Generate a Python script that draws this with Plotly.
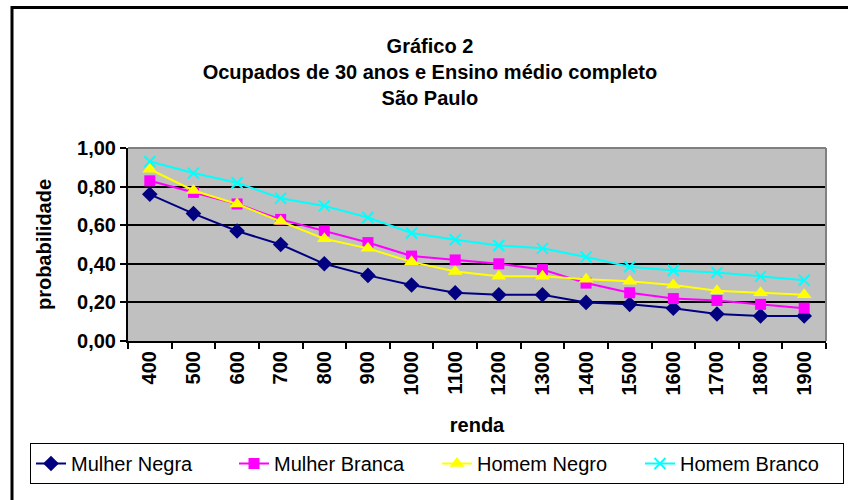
import plotly.graph_objects as go

renda = ["400", "500", "600", "700", "800", "900", "1000", "1100", "1200",
         "1300", "1400", "1500", "1600", "1700", "1800", "1900"]
mulher_negra = [0.76, 0.66, 0.57, 0.50, 0.40, 0.34, 0.29, 0.25, 0.24,
                0.24, 0.20, 0.19, 0.17, 0.14, 0.13, 0.13]
mulher_branca = [0.83, 0.77, 0.71, 0.63, 0.57, 0.51, 0.44, 0.42, 0.40,
                 0.37, 0.30, 0.25, 0.22, 0.21, 0.19, 0.17]
homem_negro = [0.89, 0.78, 0.71, 0.62, 0.53, 0.48, 0.41, 0.36, 0.335,
               0.335, 0.32, 0.31, 0.29, 0.26, 0.25, 0.24]
homem_branco = [0.93, 0.87, 0.82, 0.74, 0.70, 0.64, 0.56, 0.525, 0.495,
                0.48, 0.435, 0.385, 0.365, 0.355, 0.335, 0.315]

FONT = "Arial, 'Liberation Sans', sans-serif"

fig = go.Figure()
fig.add_trace(go.Scatter(x=renda, y=mulher_negra, name="Mulher Negra", mode="lines+markers",
                         line=dict(color="#000080", width=2),
                         marker=dict(symbol="diamond", size=12, color="#000080")))
fig.add_trace(go.Scatter(x=renda, y=mulher_branca, name="Mulher Branca", mode="lines+markers",
                         line=dict(color="#FF00FF", width=2),
                         marker=dict(symbol="square", size=11, color="#FF00FF")))
fig.add_trace(go.Scatter(x=renda, y=homem_negro, name="Homem Negro", mode="lines+markers",
                         line=dict(color="#FFFF00", width=2),
                         marker=dict(symbol="triangle-up", size=13, color="#FFFF00")))
fig.add_trace(go.Scatter(x=renda, y=homem_branco, name="Homem Branco", mode="lines+markers",
                         line=dict(color="#00FFFF", width=2),
                         marker=dict(symbol="x-thin", size=11, color="#00FFFF",
                                     line=dict(color="#00FFFF", width=2))))

fig.update_layout(
    width=848, height=500,
    margin=dict(l=128, r=22, t=148, b=159, autoexpand=False),
    paper_bgcolor="white", plot_bgcolor="#C0C0C0",
    separators=",.",
    font=dict(family=FONT, color="black"),
    title=dict(text="<b>Gráfico 2<br>Ocupados de 30 anos e Ensino médio completo<br>São Paulo</b>",
               x=0.507, xanchor="center", y=0.894, yanchor="top",
               font=dict(size=20, family=FONT, color="black")),
    showlegend=True,
    legend=dict(orientation="h", x=(30 - 128) / 698, xanchor="left",
                y=(341 - 443) / 193, yanchor="top",
                bordercolor="black", borderwidth=1, bgcolor="white",
                font=dict(size=20, family=FONT, color="black"),
                entrywidth=158, entrywidthmode="pixels", tracegroupgap=0),
)
fig.update_xaxes(type="category", tickson="boundaries", ticks="outside", ticklen=6,
                 tickcolor="black", tickwidth=2, showline=True, linecolor="black", linewidth=2,
                 showgrid=False, tickangle=-90,
                 tickfont=dict(size=20, family=FONT, color="black", weight="bold"),
                 title=dict(text="<b>renda</b>", font=dict(size=20, family=FONT), standoff=23),
                 range=[-0.5, 15.5])
fig.update_yaxes(range=[0, 1], dtick=0.2, tickformat=".2f", ticks="outside", ticklen=6,
                 tickcolor="black", tickwidth=2, showline=True, linecolor="black", linewidth=2,
                 showgrid=True, gridcolor="black", gridwidth=1.5, zeroline=False,
                 tickfont=dict(size=20, family=FONT, color="black", weight="bold"),
                 title=dict(text="<b>probabilidade</b>", font=dict(size=20, family=FONT), standoff=20))

# gray plot-area border (top/right) and outer black frame
fig.add_shape(type="line", xref="paper", yref="paper", x0=0, x1=1, y0=1, y1=1,
              line=dict(color="#808080", width=2), layer="above")
fig.add_shape(type="line", xref="paper", yref="paper", x0=1, x1=1, y0=0, y1=1,
              line=dict(color="#808080", width=2), layer="above")
fig.add_shape(type="rect", xref="paper", yref="paper",
              x0=(12 - 128) / 698, x1=(860 - 128) / 698,
              y0=(341 - 510) / 193, y1=(341 - 7.5) / 193,
              line=dict(color="black", width=3), fillcolor="rgba(0,0,0,0)", layer="above")

fig.write_html("out.html", config={"displayModeBar": False},
               post_script="document.body.style.margin='0';")
